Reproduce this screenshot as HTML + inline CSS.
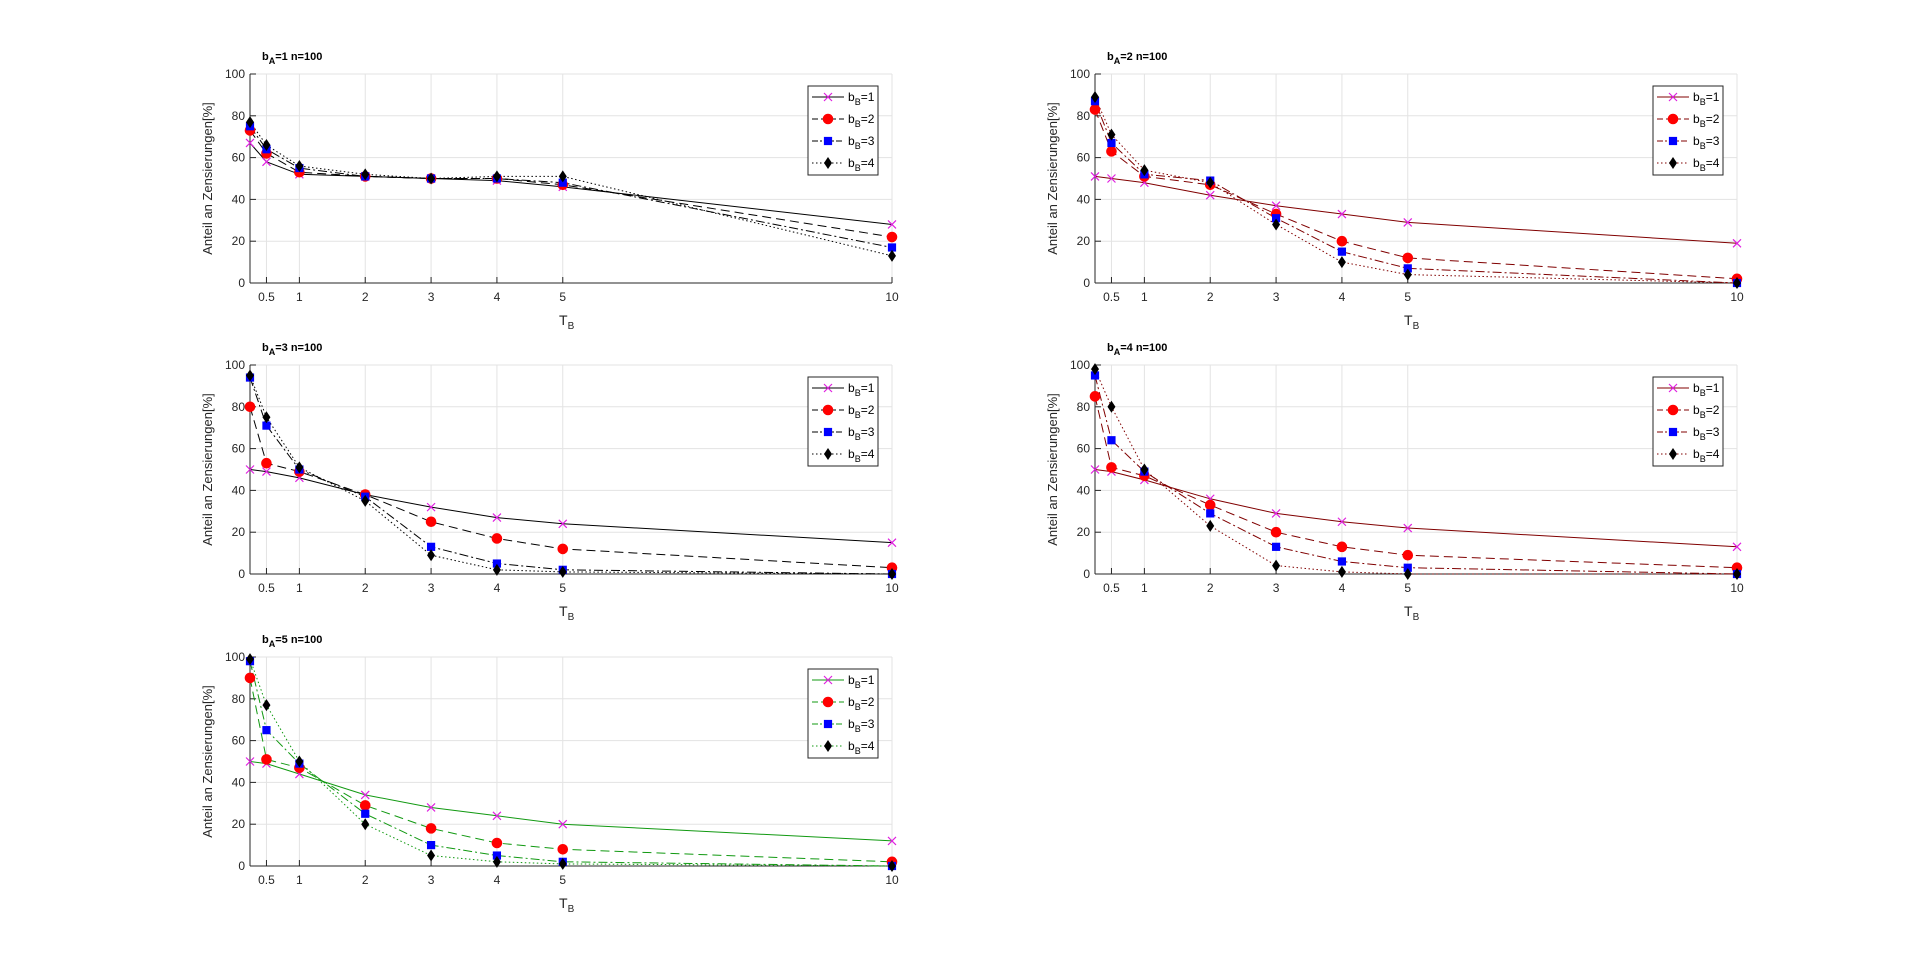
<!DOCTYPE html>
<html><head><meta charset="utf-8"><style>
html,body{margin:0;padding:0;background:#fff;}
svg{display:block;font-family:"Liberation Sans",Arial,sans-serif;}
</style></head><body>
<svg id="s" width="1920" height="973" viewBox="0 0 1920 973" xmlns="http://www.w3.org/2000/svg"></svg>
<script>
const S=document.getElementById('s');
let h='';
const xs=[0.25,0.5,1,2,3,4,5,10];
const plots=[
 {L:250,T:74,c:'#000',t:'1',d:[[67,58,52,51,50,49,46,28],[73,62,53,51,50,50,47,22],[75,64,55,51,50,50,48,17],[77,66,56,52,50,51,51,13]]},
 {L:1095,T:74,c:'#800000',t:'2',d:[[51,50,48,42,37,33,29,19],[83,63,51,47,33,20,12,2],[87,67,52,49,31,15,7,0],[89,71,54,48,28,10,4,0]]},
 {L:250,T:365,c:'#000',t:'3',d:[[50,49,46,38,32,27,24,15],[80,53,49,38,25,17,12,3],[94,71,50,37,13,5,2,0],[95,75,51,35,9,2,1,0]]},
 {L:1095,T:365,c:'#800000',t:'4',d:[[50,49,45,36,29,25,22,13],[85,51,47,33,20,13,9,3],[95,64,49,29,13,6,3,0],[98,80,50,23,4,1,0,0]]},
 {L:250,T:657,c:'#119911',t:'5',d:[[50,49,44,34,28,24,20,12],[90,51,47,29,18,11,8,2],[98,65,49,25,10,5,2,0],[99,77,50,20,5,2,1,0]]}
];
const W=642,H=209;
const dash=['', '9,5', '9,3,2,3', '1.5,2.5'];
function mk(i,x,y){
 if(i==0) return `<path d="M${x-4},${y-4}L${x+4},${y+4}M${x-4},${y+4}L${x+4},${y-4}" stroke="#e020e0" stroke-width="1.2"/>`;
 if(i==1) return `<circle cx="${x}" cy="${y}" r="4.8" fill="#f00" stroke="#f00"/>`;
 if(i==2) return `<rect x="${x-3.6}" y="${y-3.6}" width="7.2" height="7.2" fill="#0000ff" stroke="#0000ff"/>`;
 return `<path d="M${x},${y-6}L${x+4},${y}L${x},${y+6}L${x-4},${y}Z" fill="#000"/>`;
}
for(const p of plots){
 const X=v=>p.L+(v-0.25)/9.75*W, Y=v=>p.T+H-(v/100)*H;
 // grid
 for(const v of [0.5,1,2,3,4,5,10]) h+=`<line x1="${X(v)}" y1="${p.T}" x2="${X(v)}" y2="${p.T+H}" stroke="#e3e3e3"/>`;
 for(let v=20;v<=100;v+=20) h+=`<line x1="${p.L}" y1="${Y(v)}" x2="${p.L+W}" y2="${Y(v)}" stroke="#e3e3e3"/>`;
 h+=`<line x1="${p.L+W}" y1="${p.T}" x2="${p.L+W}" y2="${p.T+H}" stroke="#e3e3e3"/>`;
 // axes
 h+=`<line x1="${p.L}" y1="${p.T}" x2="${p.L}" y2="${p.T+H}" stroke="#262626"/>`;
 h+=`<line x1="${p.L}" y1="${p.T+H}" x2="${p.L+W}" y2="${p.T+H}" stroke="#262626"/>`;
 for(const v of [0.5,1,2,3,4,5,10]){h+=`<line x1="${X(v)}" y1="${p.T+H}" x2="${X(v)}" y2="${p.T+H-6}" stroke="#262626"/>`;
  h+=`<text x="${X(v)}" y="${p.T+H+18}" font-size="12" fill="#262626" text-anchor="middle">${v}</text>`;}
 for(let v=0;v<=100;v+=20){h+=`<line x1="${p.L}" y1="${Y(v)}" x2="${p.L+6}" y2="${Y(v)}" stroke="#262626"/>`;
  h+=`<text x="${p.L-5}" y="${Y(v)+4}" font-size="12" fill="#262626" text-anchor="end">${v}</text>`;}
 h+=`<text x="${p.L+12}" y="${p.T-14}" font-size="11" font-weight="bold" fill="#000">b<tspan font-size="9" dy="4">A</tspan><tspan dy="-4">=${p.t}  n=100</tspan></text>`;
 h+=`<text transform="translate(${p.L-38},${p.T+H/2}) rotate(-90)" font-size="13" fill="#262626" text-anchor="middle">Anteil an Zensierungen[%]</text>`;
 h+=`<text x="${p.L+309}" y="${p.T+H+42}" font-size="14" fill="#262626">T<tspan font-size="10" dy="4">B</tspan></text>`;
 p.d.forEach((d,i)=>{
  const pts=d.map((v,k)=>X(xs[k]).toFixed(1)+','+Y(v).toFixed(1)).join(' ');
  h+=`<polyline points="${pts}" fill="none" stroke="${p.c}" stroke-width="1" ${dash[i]?`stroke-dasharray="${dash[i]}"`:''}/>`;
 });
 p.d.forEach((d,i)=>d.forEach((v,k)=>h+=mk(i,X(xs[k]),Y(v))));
 // legend
 const lx=p.L+W-84, ly=p.T+12;
 h+=`<rect x="${lx}" y="${ly}" width="70" height="89" fill="#fff" stroke="#262626"/>`;
 for(let i=0;i<4;i++){const yy=ly+11+i*22;
  h+=`<line x1="${lx+4}" y1="${yy}" x2="${lx+36}" y2="${yy}" stroke="${p.c}" ${dash[i]?`stroke-dasharray="${i==3?'1.5,2.5':(i==1?'6,3':'6,2,2,2')}"`:''}/>`;
  h+=mk(i,lx+20,yy);
  h+=`<text x="${lx+40}" y="${yy+4}" font-size="12" fill="#000">b<tspan font-size="9" dy="4">B</tspan><tspan dy="-4">=${i+1}</tspan></text>`;}
}
S.innerHTML=h;
</script>
</body></html>
